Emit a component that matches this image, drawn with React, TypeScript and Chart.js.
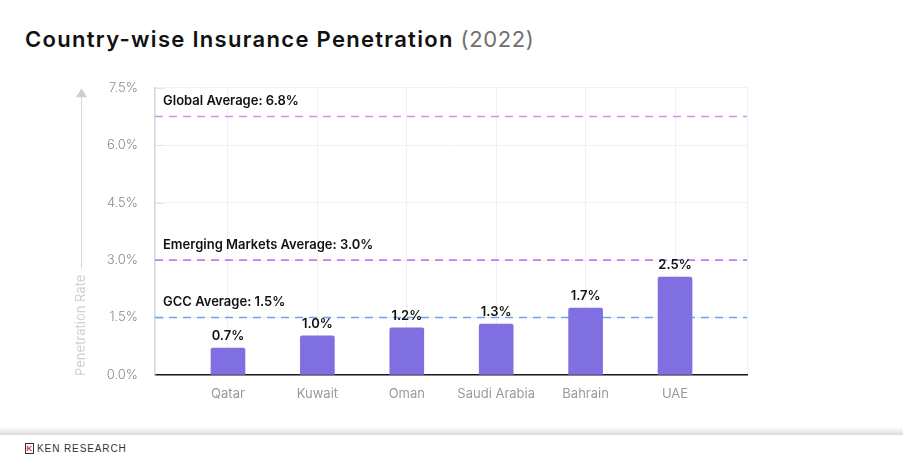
import React, { useEffect, useRef } from "react";
import { Chart, registerables } from "chart.js";

Chart.register(...registerables);

const categories = ["Qatar", "Kuwait", "Oman", "Saudi Arabia", "Bahrain", "UAE"];
const penetration = [0.7, 1.02, 1.23, 1.33, 1.75, 2.56];
const penetrationLabels = ["0.7%", "1.0%", "1.2%", "1.3%", "1.7%", "2.5%"];
const yTicks = [0, 1.5, 3.0, 4.5, 6.0, 7.5];
const avgNames = ["Global Average: 6.8%", "Emerging Markets Average: 3.0%", "GCC Average: 1.5%"];
const avgValues = [6.75, 3.0, 1.5];

const AVG_COLORS = ["#d88ee8", "#c27cf2", "#6ea6ee"];
const BAR_COLOR = "#806fe0";
const FONT = "Inter, 'Noto Sans', sans-serif";

const overlayPlugin = {
  id: "overlay",
  beforeDatasetsDraw(chart: any) {
    const { ctx, chartArea, scales } = chart;
    ctx.save();
    ctx.strokeStyle = "#e2e2e2";
    ctx.lineWidth = 1;
    yTicks.forEach((v) => {
      if (v === 0) return;
      const y = Math.round(scales.y.getPixelForValue(v)) + 0.5;
      ctx.beginPath();
      ctx.moveTo(chartArea.left, y);
      ctx.lineTo(chartArea.left + 9, y);
      ctx.stroke();
    });
    avgValues.forEach((v, i) => {
      const y = scales.y.getPixelForValue(v);
      ctx.setLineDash([8, 6]);
      ctx.lineWidth = 1.6;
      ctx.strokeStyle = AVG_COLORS[i];
      ctx.beginPath();
      ctx.moveTo(chartArea.left, y);
      ctx.lineTo(chartArea.right, y);
      ctx.stroke();
      ctx.setLineDash([]);
      ctx.fillStyle = "#111";
      ctx.font = `600 13px ${FONT}`;
      ctx.textAlign = "left";
      ctx.textBaseline = "middle";
      ctx.fillText(avgNames[i], chartArea.left + 8, y - 15);
    });
    ctx.restore();
  },
  afterDatasetsDraw(chart: any) {
    const { ctx, chartArea } = chart;
    ctx.save();
    const meta = chart.getDatasetMeta(0);
    ctx.fillStyle = "#111";
    ctx.font = `600 13px ${FONT}`;
    ctx.textAlign = "center";
    ctx.textBaseline = "middle";
    meta.data.forEach((el: any, i: number) => {
      ctx.fillText(penetrationLabels[i], el.x, el.y - 12);
    });
    const ax = 81;
    ctx.font = `400 13px ${FONT}`;
    const title = "Penetration Rate";
    const tw = ctx.measureText(title).width;
    ctx.fillStyle = "#cfcfcf";
    ctx.translate(ax, chartArea.bottom + 1);
    ctx.rotate(-Math.PI / 2);
    ctx.textAlign = "left";
    ctx.textBaseline = "middle";
    ctx.fillText(title, 0, 0);
    ctx.setTransform(1, 0, 0, 1, 0, 0);
    const lineBottom = chartArea.bottom + 1 - tw - 6;
    ctx.strokeStyle = "#d8d8d8";
    ctx.lineWidth = 1;
    ctx.beginPath();
    ctx.moveTo(ax + 0.5, lineBottom);
    ctx.lineTo(ax + 0.5, chartArea.top + 9);
    ctx.stroke();
    ctx.fillStyle = "#cfcfcf";
    ctx.beginPath();
    ctx.moveTo(ax + 0.5, chartArea.top + 0.5);
    ctx.lineTo(ax + 6, chartArea.top + 9.5);
    ctx.lineTo(ax - 5, chartArea.top + 9.5);
    ctx.closePath();
    ctx.fill();
    ctx.restore();
  },
};

export default function App() {
  const ref = useRef<HTMLCanvasElement>(null);
  useEffect(() => {
    if (!ref.current) return;
    const chart = new Chart(ref.current, {
      type: "bar",
      data: {
        datasets: [
          {
            data: categories.map((c, i) => ({ x: i, y: penetration[i] })),
            backgroundColor: BAR_COLOR,
            borderRadius: 2,
            borderSkipped: "bottom",
            barThickness: 34,
          },
        ],
      },
      options: {
        animation: false,
        responsive: false,
        maintainAspectRatio: false,
        layout: { padding: { top: 0, right: 156, bottom: 10, left: 0 } },
        plugins: { legend: { display: false }, tooltip: { enabled: false } },
        scales: {
          x: {
            type: "linear",
            offset: false,
            min: -0.816,
            max: 5.805,
            afterBuildTicks: (axis: any) => {
              axis.ticks = [...categories.map((c, i) => ({ value: i })), { value: 5.805 }];
            },
            afterFit: (axis: any) => {
              axis.height = 40;
            },
            ticks: {
              autoSkip: false,
              maxRotation: 0,
              padding: 11,
              color: "#9a9a9a",
              font: { family: FONT, size: 13 },
              callback: (v: any) => categories[v as number] ?? "",
            },
            grid: { color: "#f0eef8", drawTicks: false, offset: false },
            border: { color: "#1a1a1a", width: 1.5 },
          },
          y: {
            min: 0,
            max: 7.5,
            afterBuildTicks: (axis: any) => {
              axis.ticks = yTicks.map((v) => ({ value: v }));
            },
            afterFit: (axis: any) => {
              axis.width = 155;
            },
            ticks: {
              padding: 17,
              color: "#8a8a8a",
              font: { family: FONT, size: 13, weight: 300 as any },
              callback: (v: any) => Number(v).toFixed(1) + "%",
            },
            grid: { color: "#f1eff8", drawTicks: false },
            border: { color: "#d6d6d6", width: 1.5 },
          },
        },
      } as any,
      plugins: [overlayPlugin],
    });
    return () => chart.destroy();
  }, []);

  return (
    <div
      style={{
        position: "fixed",
        left: 0,
        top: 0,
        width: 903,
        height: 462,
        background: "#fff",
        overflow: "hidden",
        fontFamily: FONT,
      }}
    >
      <div
        style={{
          position: "absolute",
          left: 25,
          top: 25,
          fontSize: 22,
          lineHeight: "28px",
          fontWeight: 600,
          letterSpacing: 1.3,
          color: "#111",
          whiteSpace: "nowrap",
        }}
      >
        Country-wise Insurance Penetration{" "}
        <span style={{ fontWeight: 400, color: "#707070", letterSpacing: 0.6 }}>(2022)</span>
      </div>
      <canvas
        ref={ref}
        width={903}
        height={362}
        style={{ position: "absolute", left: 0, top: 63, width: 903, height: 362 }}
      />
      <div
        style={{
          position: "absolute",
          left: 0,
          top: 427,
          width: 903,
          height: 8,
          background: "linear-gradient(to bottom, rgba(0,0,0,0), rgba(0,0,0,0.14))",
        }}
      />
      <div
        style={{
          position: "absolute",
          left: 25,
          top: 443,
          display: "flex",
          alignItems: "center",
          gap: 3,
        }}
      >
        <div
          style={{
            width: 9,
            height: 11,
            border: "1px solid #333",
            boxSizing: "border-box",
            fontSize: 8,
            lineHeight: "9px",
            fontWeight: 700,
            color: "#d33",
            textAlign: "center",
            fontFamily: "'Liberation Sans', sans-serif",
          }}
        >
          K
        </div>
        <span
          style={{
            fontSize: 10,
            letterSpacing: 0.9,
            color: "#333",
            fontFamily: "'Liberation Sans', sans-serif",
            lineHeight: "10px",
          }}
        >
          KEN RESEARCH
        </span>
      </div>
    </div>
  );
}
